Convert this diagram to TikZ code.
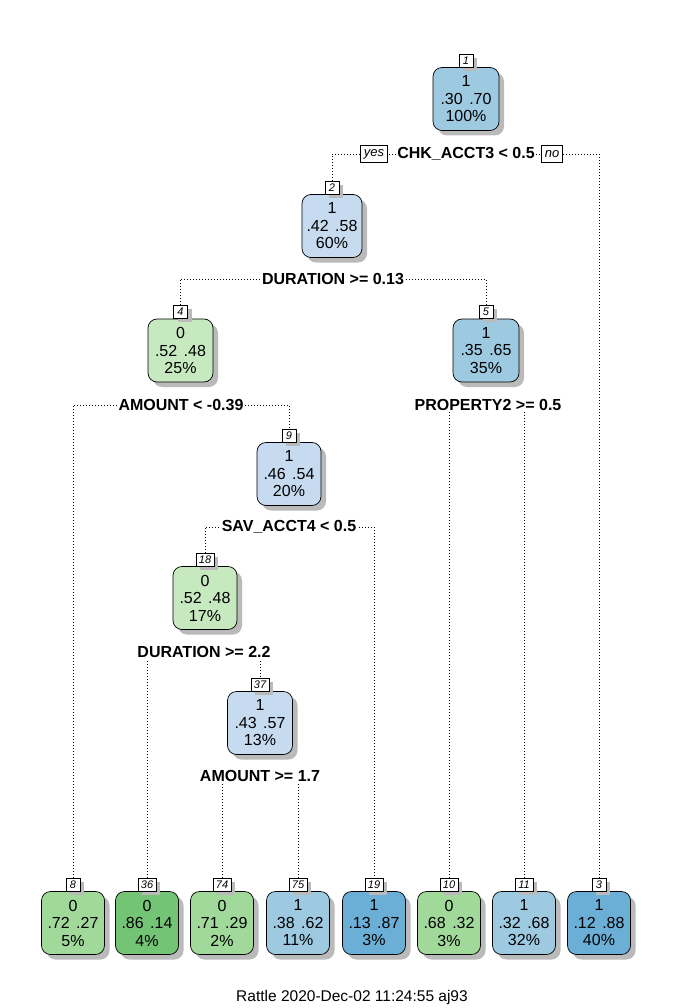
\documentclass[tikz,border=0pt]{standalone}
\usepackage{fontspec}
\setmainfont{Liberation Sans}
\usetikzlibrary{shadows}
\definecolor{bA}{HTML}{C6DBEF}
\definecolor{bB}{HTML}{9ECAE1}
\definecolor{bC}{HTML}{6BAED6}
\definecolor{gA}{HTML}{C7E9C0}
\definecolor{gB}{HTML}{A1D99B}
\definecolor{gC}{HTML}{74C476}
\newcommand\pp[2]{#1\hspace{6.5pt}#2}
\tikzset{
  treebox/.style={draw=black, line width=0.7pt, rounded corners=9pt, minimum height=63pt,
    inner sep=0pt, align=center, font=\fontsize{16}{17.5}\selectfont,
    drop shadow={shadow xshift=5pt, shadow yshift=-5pt, fill=black!27, opacity=1}},
  numlab/.style={draw=black, fill=white, line width=0.5pt, inner sep=0pt, minimum width=14pt,
    minimum height=13pt, font=\fontsize{11}{11}\selectfont\itshape, anchor=south,
    drop shadow={shadow xshift=4pt, shadow yshift=-4pt, fill=black!27, opacity=1}},
  splitlab/.style={fill=white, inner sep=1.5pt, font=\fontsize{16}{16}\selectfont\bfseries},
  conn/.style={line width=0.7pt, dash pattern=on 0.8pt off 2.2pt},
  ynlab/.style={draw=black, fill=white, line width=0.5pt, inner xsep=3.5pt, minimum height=17pt,
    font=\fontsize{13}{13}\selectfont\itshape},
  foot/.style={font=\fontsize{15.5}{16}\selectfont}
}
\begin{document}
\begin{tikzpicture}[x=1pt,y=-1pt]
\useasboundingbox (0,0) rectangle (672,1008);
% inner nodes
\node[treebox, fill=bB, minimum width=66pt] (n1) at (466,99) {1\\\pp{.30}{.70}\\100\%};
\node[treebox, fill=bA, minimum width=60pt] (n2) at (332,226) {1\\\pp{.42}{.58}\\60\%};
\node[treebox, fill=gA, minimum width=65pt] (n4) at (180.5,350.5) {0\\\pp{.52}{.48}\\25\%};
\node[treebox, fill=bB, minimum width=66pt] (n5) at (486,350.5) {1\\\pp{.35}{.65}\\35\%};
\node[treebox, fill=bA, minimum width=64pt] (n9) at (289,474) {1\\\pp{.46}{.54}\\20\%};
\node[treebox, fill=gA, minimum width=64pt] (n18) at (205,598) {0\\\pp{.52}{.48}\\17\%};
\node[treebox, fill=bA, minimum width=65pt] (n37) at (260,723) {1\\\pp{.43}{.57}\\13\%};
% leaves
\node[treebox, fill=gB, minimum width=63pt] (l8) at (73,923) {0\\\pp{.72}{.27}\\5\%};
\node[treebox, fill=gC, minimum width=63pt] (l36) at (147,923) {0\\\pp{.86}{.14}\\4\%};
\node[treebox, fill=gB, minimum width=63pt] (l74) at (222,923) {0\\\pp{.71}{.29}\\2\%};
\node[treebox, fill=bB, minimum width=63pt] (l75) at (298,923) {1\\\pp{.38}{.62}\\11\%};
\node[treebox, fill=bC, minimum width=63pt] (l19) at (374,923) {1\\\pp{.13}{.87}\\3\%};
\node[treebox, fill=gB, minimum width=63pt] (l10) at (449,923) {0\\\pp{.68}{.32}\\3\%};
\node[treebox, fill=bB, minimum width=63pt] (l11) at (524,923) {1\\\pp{.32}{.68}\\32\%};
\node[treebox, fill=bC, minimum width=63pt] (l3) at (599,923) {1\\\pp{.12}{.88}\\40\%};
% number labels
\node[numlab] (k1) at (n1.north) {1};
\node[numlab] (k2) at (n2.north) {2};
\node[numlab] (k4) at (n4.north) {4};
\node[numlab] (k5) at (n5.north) {5};
\node[numlab] (k9) at (n9.north) {9};
\node[numlab, minimum width=18pt] (k18) at (n18.north) {18};
\node[numlab, minimum width=18pt] (k37) at (n37.north) {37};
\node[numlab] (k8) at (l8.north) {8};
\node[numlab, minimum width=18pt] (k36) at (l36.north) {36};
\node[numlab, minimum width=18pt] (k74) at (l74.north) {74};
\node[numlab, minimum width=18pt] (k75) at (l75.north) {75};
\node[numlab, minimum width=18pt] (k19) at (l19.north) {19};
\node[numlab, minimum width=18pt] (k10) at (l10.north) {10};
\node[numlab, minimum width=18pt] (k11) at (l11.north) {11};
\node[numlab] (k3) at (l3.north) {3};
% split line end points
\coordinate (s1l) at (332,154);   \coordinate (s1r) at (599,154);
\coordinate (s2l) at (180.5,279); \coordinate (s2r) at (486,279);
\coordinate (s4l) at (73,405);    \coordinate (s4r) at (289,405);
\coordinate (s5l) at (449,405);   \coordinate (s5r) at (524,405);
\coordinate (s9l) at (205,527);   \coordinate (s9r) at (374,527);
\coordinate (s18l) at (147,652);  \coordinate (s18r) at (260,652);
\coordinate (s37l) at (222,776);  \coordinate (s37r) at (298,776);
% connectors
\draw[conn] (k2.north) -- (s1l) -- (s1r) -- (k3.north);
\draw[conn] (k4.north) -- (s2l) -- (s2r) -- (k5.north);
\draw[conn] (k8.north) -- (s4l) -- (s4r) -- (k9.north);
\draw[conn] (k10.north) -- (s5l) -- (s5r) -- (k11.north);
\draw[conn] (k18.north) -- (s9l) -- (s9r) -- (k19.north);
\draw[conn] (k36.north) -- (s18l) -- (s18r) -- (k37.north);
\draw[conn] (k74.north) -- (s37l) -- (s37r) -- (k75.north);
% split labels
\node[splitlab] (t1) at (466,154) {CHK\_ACCT3 < 0.5};
\node[ynlab] (yes) at (374,154) {yes};
\node[ynlab] (no) at (552,154) {no};
\node[splitlab] (t2) at (333,279) {DURATION >= 0.13};
\node[splitlab] (t4) at (181,405) {AMOUNT < -0.39};
\node[splitlab] (t5) at (488,405) {PROPERTY2 >= 0.5};
\node[splitlab] (t9) at (289,527) {SAV\_ACCT4 < 0.5};
\node[splitlab] (t18) at (204,652) {DURATION >= 2.2};
\node[splitlab] (t37) at (260,776) {AMOUNT >= 1.7};
% footer
\node[foot] (ft) at (352,997) {Rattle 2020-Dec-02 11:24:55 aj93};
\end{tikzpicture}
\end{document}
